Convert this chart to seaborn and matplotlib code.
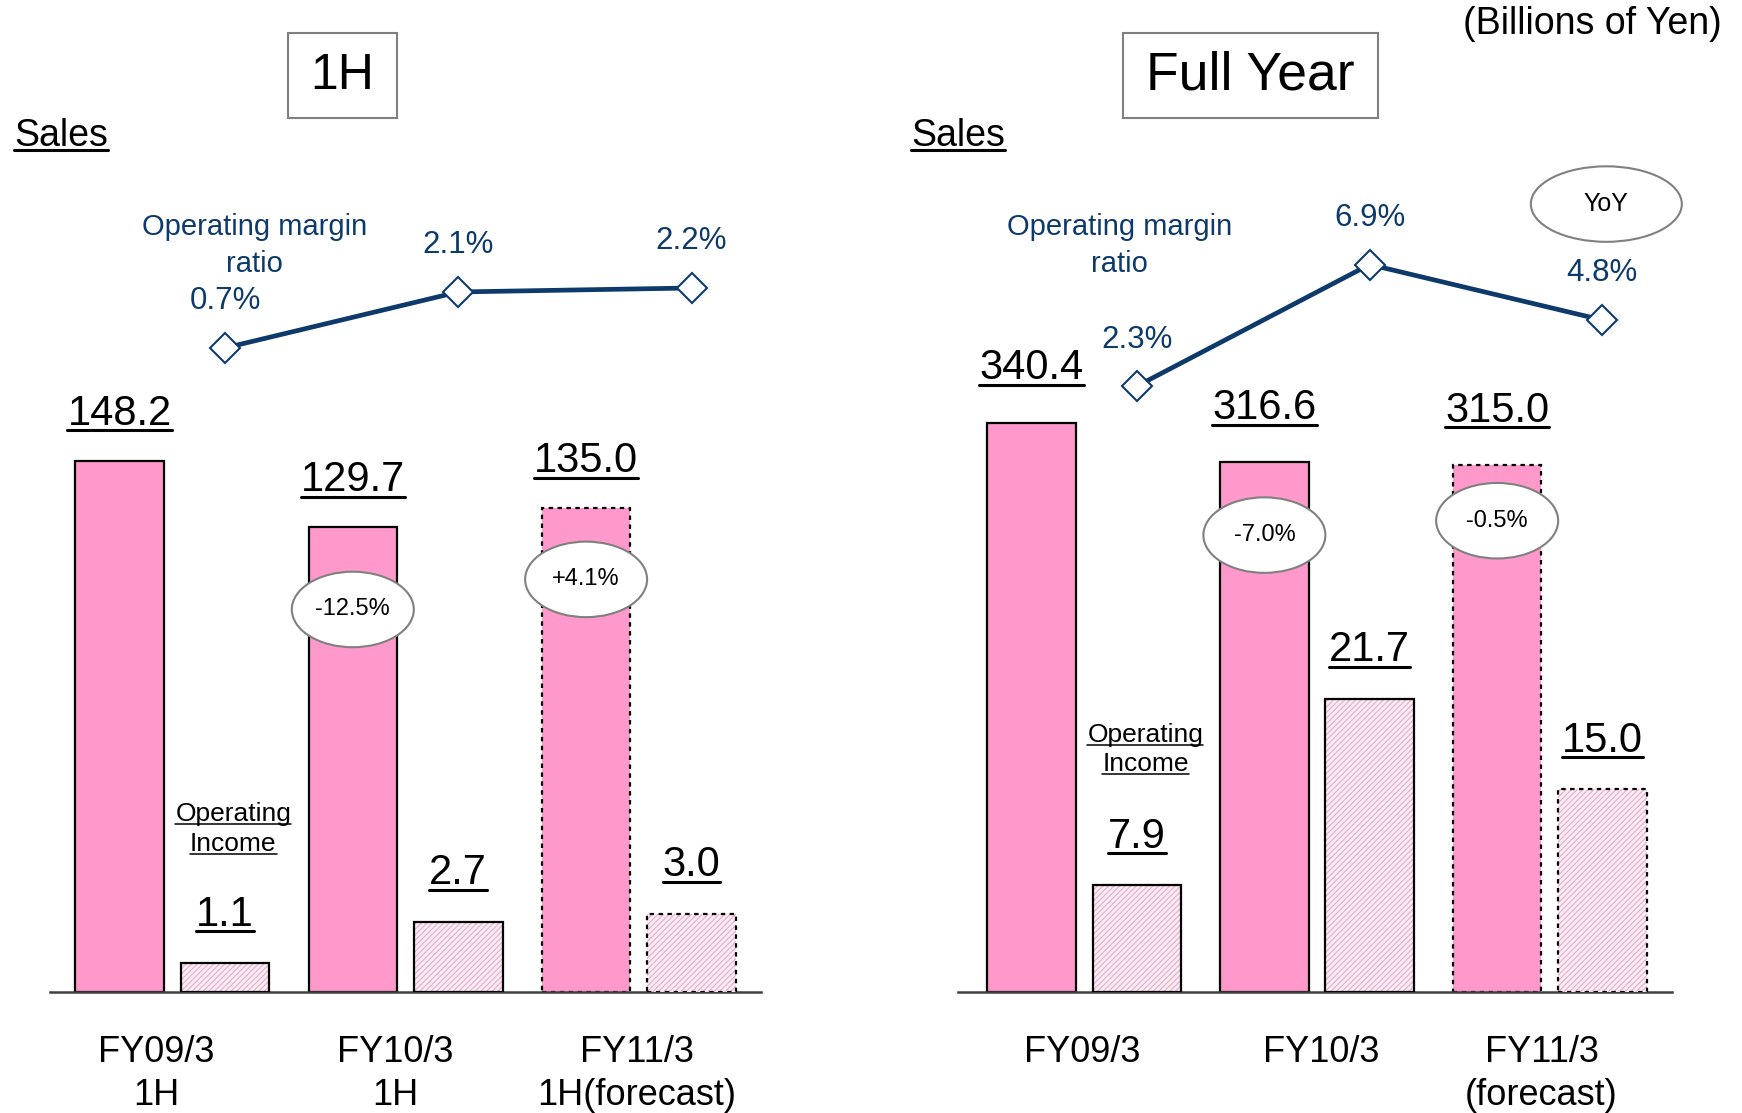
import numpy as np
import pandas as pd
import seaborn as sns
import matplotlib.pyplot as plt
from matplotlib.patches import Ellipse, Rectangle
from matplotlib.lines import Line2D
from matplotlib.transforms import ScaledTranslation

# values (billions of yen)
periods_1h = ['FY09/3\n1H', 'FY10/3\n1H', 'FY11/3\n1H(forecast)']
sales_1h = [148.2, 129.7, 135.0]
income_1h = [1.1, 2.7, 3.0]
margin_1h = [0.7, 2.1, 2.2]
yoy_1h = ['', '-12.5%', '+4.1%']

periods_fy = ['FY09/3', 'FY10/3', 'FY11/3\n(forecast)']
sales_fy = [340.4, 316.6, 315.0]
income_fy = [7.9, 21.7, 15.0]
margin_fy = [2.3, 6.9, 4.8]
yoy_fy = ['', '-7.0%', '-0.5%']

PINK = '#FF99CC'
HATCH_PINK = '#EAB0CE'
LIGHT = '#FCEEF5'
NAVY = '#0D3A6B'
WIDTH = 0.904
OFF = WIDTH / 4

sns.set_theme(style='white')
plt.rcParams['font.family'] = ['Liberation Sans', 'DejaVu Sans']
plt.rcParams['text.color'] = 'black'
plt.rcParams['xtick.color'] = 'black'
plt.rcParams['hatch.linewidth'] = 0.9

fig = plt.figure(figsize=(17.42, 11.13), dpi=100)
underlined = []


def panel(rect, xlim, periods, sales, income, margin, yoy, sales_top, inc_top, m_lim, yoy_y,
          sales_off, tick_shift):
    ax = fig.add_axes(rect)
    ax2 = ax.twinx()
    ax3 = ax.twinx()
    df = pd.DataFrame({'period': periods * 2,
                       'series': ['Sales'] * 3 + ['Operating Income'] * 3,
                       'value': sales + income})
    kw = dict(x='period', y='value', hue='series', order=periods,
              hue_order=['Sales', 'Operating Income'],
              palette={'Sales': PINK, 'Operating Income': LIGHT}, saturation=1,
              dodge=True, width=WIDTH, gap=0.16, legend=False, errorbar=None)
    sns.barplot(data=df[df.series == 'Sales'], ax=ax, edgecolor='black', linewidth=1.6, **kw)
    sns.barplot(data=df[df.series == 'Operating Income'], ax=ax2, edgecolor=HATCH_PINK,
                linewidth=0, hatch='//////', **kw)

    sbars = sorted(ax.patches, key=lambda p: p.get_x())
    ibars = sorted(ax2.patches, key=lambda p: p.get_x())
    sbars[-1].set_linestyle((0, (2, 2)))
    for i, p in enumerate(ibars):
        ls = (0, (2, 2)) if i == len(ibars) - 1 else '-'
        ax2.add_patch(Rectangle(p.get_xy(), p.get_width(), p.get_height(), fill=False,
                                ec='black', lw=1.6, ls=ls))

    sns.lineplot(x=np.arange(3) + OFF, y=margin, ax=ax3, color=NAVY, lw=3.4, marker='D',
                 markersize=15, markerfacecolor='white', markeredgecolor=NAVY,
                 markeredgewidth=1.5, zorder=5)

    for i in range(3):
        t = ax.annotate(f'{sales[i]:.1f}', (i - OFF, sales[i]), xytext=(0, sales_off),
                        textcoords='offset points', ha='center', va='center', fontsize=30)
        underlined.append((t, 2.2))
        t = ax2.annotate(f'{income[i]:.1f}', (i + OFF, income[i]), xytext=(0, 35),
                         textcoords='offset points', ha='center', va='center', fontsize=30)
        underlined.append((t, 2.2))
        ax3.annotate(f'{margin[i]}%', (i + OFF, margin[i]), xytext=(0, 33.6),
                     textcoords='offset points', ha='center', va='center', fontsize=22.5,
                     color=NAVY)
        if yoy[i]:
            tr = fig.dpi_scale_trans + ScaledTranslation(i - OFF, yoy_y[i], ax.transData)
            ax.add_patch(Ellipse((0, 0), 1.22, 0.755, transform=tr, fc='white', ec='gray',
                                 lw=1.5, zorder=5))
            ax.text(i - OFF, yoy_y[i], yoy[i], ha='center', va='center', fontsize=17, zorder=6)

    ax.set_xticks(np.arange(3) + np.array(tick_shift), periods)
    ax.set_xlim(*xlim)
    ax.set_ylim(0, sales_top)
    ax2.set_ylim(0, inc_top)
    ax3.set_ylim(*m_lim)
    for a in (ax, ax2, ax3):
        a.set_yticks([])
        a.set_xlabel('')
        a.set_ylabel('')
        for s in ('top', 'left', 'right', 'bottom'):
            a.spines[s].set_visible(False)
    ax.spines['bottom'].set_visible(True)
    ax.spines['bottom'].set_color('#404040')
    ax.spines['bottom'].set_linewidth(1.8)
    ax.tick_params(axis='x', length=0, pad=31, labelsize=26, colors='black')
    for lab in ax.get_xticklabels():
        lab.set_linespacing(1.3)
    return ax


panel([0.0287, 0.1088, 0.4082, 0.8912], (-0.524, 2.524), periods_1h, sales_1h, income_1h,
      margin_1h, yoy_1h, 277, 38.2, (-15.4, 9.4), [0, 106.8, 115.2], 34,
      [-0.07, -0.045, -0.01])
axr = panel([0.5497, 0.1088, 0.4101, 0.8912], (-0.544, 2.525), periods_fy, sales_fy, income_fy,
            margin_fy, yoy_fy, 593, 73.5, (-20.6, 16.9), [0, 273.1, 281.7], 39,
            [-0.01, 0.02, -0.035])

# YoY legend bubble
tr = fig.dpi_scale_trans + ScaledTranslation(2.243, 471, axr.transData)
axr.add_patch(Ellipse((0, 0), 1.51, 0.755, transform=tr, fc='white', ec='gray', lw=1.5,
                      zorder=5, clip_on=False))
axr.text(2.243, 471, 'YoY', ha='center', va='center', fontsize=18, zorder=6)

# titles in boxes
for x0, w, title, size in [(259, 98, '1H', 36), (1011, 229, 'Full Year', 38.5)]:
    fig.add_artist(Rectangle((x0 / 1568, 1 - 106 / 1002), w / 1568, 76 / 1002,
                             transform=fig.transFigure, fill=False, ec='#808080', lw=1.5))
    fig.text((x0 + w / 2) / 1568, 1 - 68 / 1002, title, ha='center', va='center', fontsize=size)

fig.text(1550 / 1568, 1 - 22 / 1002, '(Billions of Yen)', ha='right', va='center', fontsize=27)

for x in (13, 820):
    t = fig.text(x / 1568, 1 - 122 / 1002, 'Sales', ha='left', va='center', fontsize=27)
    underlined.append((t, 2.2))

for x in (229, 1008):
    fig.text(x / 1568, 1 - 221 / 1002, 'Operating margin\nratio', ha='center', va='center',
             fontsize=21, color=NAVY, linespacing=1.4)

for x, y1, y2 in [(210, 733, 760), (1031, 662, 688)]:
    for y, word in [(y1, 'Operating'), (y2, 'Income')]:
        t = fig.text(x / 1568, 1 - y / 1002, word, ha='center', va='center', fontsize=19)
        underlined.append((t, 1.1))

fig.canvas.draw()
r = fig.canvas.get_renderer()
inv = fig.transFigure.inverted()
for t, lw in underlined:
    bb = t.get_window_extent(r)
    y = bb.y0 + 0.09 * bb.height
    (x0, yy), (x1, _) = inv.transform([(bb.x0, y), (bb.x1, y)])
    fig.add_artist(Line2D([x0, x1], [yy, yy], transform=fig.transFigure,
                          color=t.get_color(), lw=lw))

fig.savefig('out.png', dpi=100)
